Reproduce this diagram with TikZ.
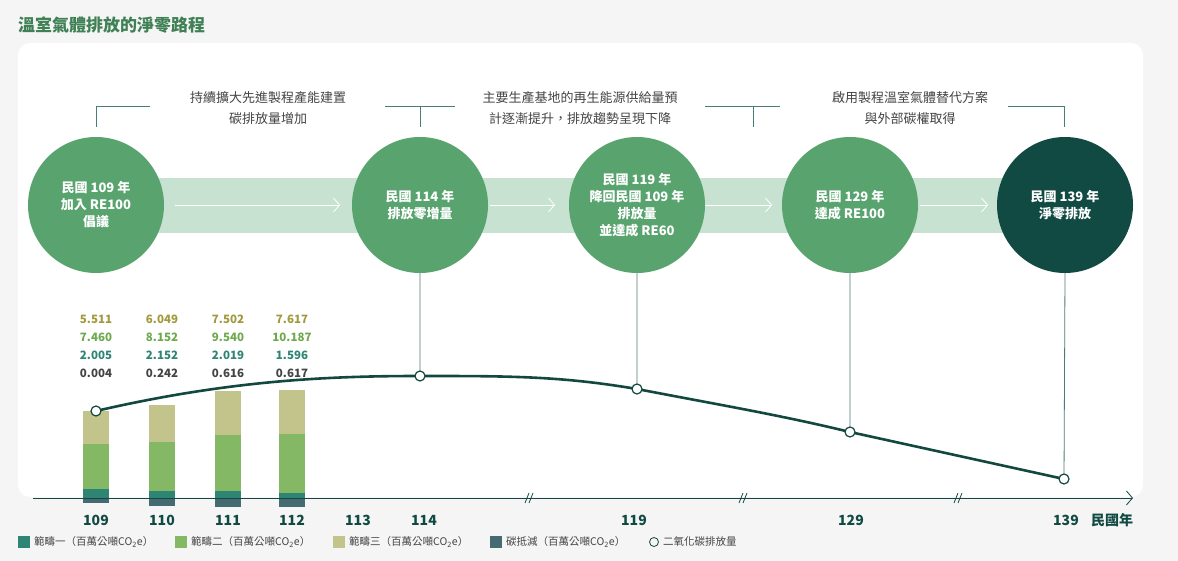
\documentclass[tikz,border=0pt]{standalone}
\usepackage{fontspec}
\setmainfont{Noto Sans CJK TC}
\usetikzlibrary{shapes,arrows.meta,positioning}
\definecolor{pagegray}{HTML}{F5F5F5}
\definecolor{milegreen}{HTML}{58A36E}
\definecolor{netzero}{HTML}{114A43}
\definecolor{bandgreen}{HTML}{C8E2D2}
\definecolor{titlegreen}{HTML}{3F8055}
\definecolor{linegreen}{HTML}{12483F}
\definecolor{stemgreen}{HTML}{4C7C78}
\definecolor{sone}{HTML}{2E8573}
\definecolor{stwo}{HTML}{84B865}
\definecolor{sthree}{HTML}{C2C48C}
\definecolor{soff}{HTML}{466A72}
\definecolor{tthree}{HTML}{A09A3C}
\definecolor{ttwo}{HTML}{6FA94E}
\definecolor{txtgray}{HTML}{444444}

\begin{document}
\begin{tikzpicture}[x=1pt,y=-1pt,% styles for the whole picture
        every node/.style={align=center,inner sep=0pt},
        mile/.style={circle,minimum size=136pt,fill=milegreen,text=white,font=\bfseries\fontsize{13}{17}\selectfont},
        stage/.style={text=txtgray,font=\fontsize{13}{21}\selectfont},
        brk/.style={draw=stemgreen,thick},
        stem/.style={draw=stemgreen,thick},
        val/.style={font=\bfseries\fontsize{11.5}{12}\selectfont},
        yr/.style={text=netzero,font=\bfseries\fontsize{14}{14}\selectfont},
        legtext/.style={text=txtgray,font=\fontsize{10.5}{12}\selectfont,anchor=west},
        dot/.style={circle,draw=linegreen,very thick,fill=white,minimum size=10pt}
    ]
    \fill[pagegray] (0,0) rectangle (1178,561);
    \useasboundingbox (0,0) rectangle (1178,561);
    \fill[white,rounded corners=12pt] (18,43) rectangle (1143,497);
    \node[anchor=west,text=titlegreen,font=\bfseries\fontsize{17}{17}\selectfont] (T) at (18,25) {溫室氣體排放的淨零路程};
    % band with arrows
    \fill[bandgreen] (150,178) rectangle (1010,233);
    \foreach \a/\b in {175/340,490/555,705/772,920/988}
        \draw[white,thick,-{Straight Barb[length=6pt,width=14pt]}] (\a,205) -- (\b,205);
    % milestones
    \node[mile] (C1) at (96,205) {民國 109 年\\加入 RE100\\倡議};
    \node[mile] (C2) at (420,205) {民國 114 年\\排放零增量};
    \node[mile] (C3) at (637,205) {民國 119 年\\降回民國 109 年\\排放量\\並達成 RE60};
    \node[mile] (C4) at (850,205) {民國 129 年\\達成 RE100};
    \node[mile,fill=netzero] (C5) at (1065,205) {民國 139 年\\淨零排放};
    % stage texts and brackets
    \node[stage] (S1) at (268,108) {持續擴大先進製程產能建置\\碳排放量增加};
    \node[stage] (S2) at (580,108) {主要生產基地的再生能源供給量預\\計逐漸提升，排放趨勢呈現下降};
    \node[stage] (S3) at (910,108) {啟用製程溫室氣體替代方案\\與外部碳權取得};
    \draw[brk] (96,127) -- (96,106) -- (150,106);
    \draw[brk] (385,106) -- (455,106) (420,106) -- (420,127);
    \draw[brk] (705,106) -- (780,106) (753,106) -- (753,127);
    \draw[brk] (1008,106) -- (1064,106) -- (1064,127);
    % bars: x / offset / scope1 / scope2 / scope3 tops
    \foreach \x/\o/\p/\q/\r in {96/503/489/444/411,162/506/491/442/405,228/507/491/435/391,292/507/493/434/390}{
        \fill[soff] (\x-13,498) rectangle (\x+13,\o);
        \fill[sone] (\x-13,498) rectangle (\x+13,\p);
        \fill[stwo] (\x-13,\p) rectangle (\x+13,\q);
        \fill[sthree] (\x-13,\q) rectangle (\x+13,\r);
    }
    \foreach \x/\a/\b/\c/\d in {96/5.511/7.460/2.005/0.004,162/6.049/8.152/2.152/0.242,228/7.502/9.540/2.019/0.616,292/7.617/10.187/1.596/0.617}{
        \node[val,text=tthree] at (\x,319) {\a};
        \node[val,text=ttwo] at (\x,337) {\b};
        \node[val,text=sone] at (\x,355) {\c};
        \node[val,text=txtgray] at (\x,373) {\d};
    }
    % axis
    \draw[linegreen,thick,-{Straight Barb[length=6pt,width=14pt]}] (33,498) -- (1133,498);
    \foreach \x in {529,743,958}
        \draw[linegreen,thick] (\x-4,503) -- (\x,493) (\x,503) -- (\x+4,493);
    \foreach \x/\t in {96/109,162/110,228/111,292/112,358/113,424/114,634/119,851/129,1066/139}
        \node[yr] at (\x,520) {\t};
    \node[yr] at (1112,520) {民國年};
    % emission curve
    \coordinate (P1) at (96,411);
    \coordinate (P2) at (420,376);
    \coordinate (P3) at (637,389);
    \coordinate (P4) at (850,432);
    \coordinate (P5) at (1064,479);
    \draw[stem] (C2.south) -- (P2) (C3.south) -- (P3) (C4.south) -- (P4) (C5.south) -- (P5);
    \draw[linegreen,line width=2.6pt] (P1) .. controls (230,380) and (330,376) .. (P2) .. controls (510,376) and (560,376) .. (P3) .. controls (720,405) and (780,415) .. (P4) -- (P5);
    \foreach \p in {P1,P2,P3,P4,P5} \node[dot] at (\p) {};
    % legend
    \foreach \x/\c/\t in {18/sone/範疇一（百萬公噸CO\textsubscript{2}e）,175/stwo/範疇二（百萬公噸CO\textsubscript{2}e）,333/sthree/範疇三（百萬公噸CO\textsubscript{2}e）,490/soff/碳抵減（百萬公噸CO\textsubscript{2}e）}{
        \fill[\c] (\x,536) rectangle (\x+12,548);
        \node[legtext] at (\x+16,542) {\t};
    }
    \node[circle,draw=linegreen,thick,minimum size=9pt] (L5) at (654,542) {};
    \node[legtext] at (663,542) {二氧化碳排放量};
\end{tikzpicture}
\end{document}
